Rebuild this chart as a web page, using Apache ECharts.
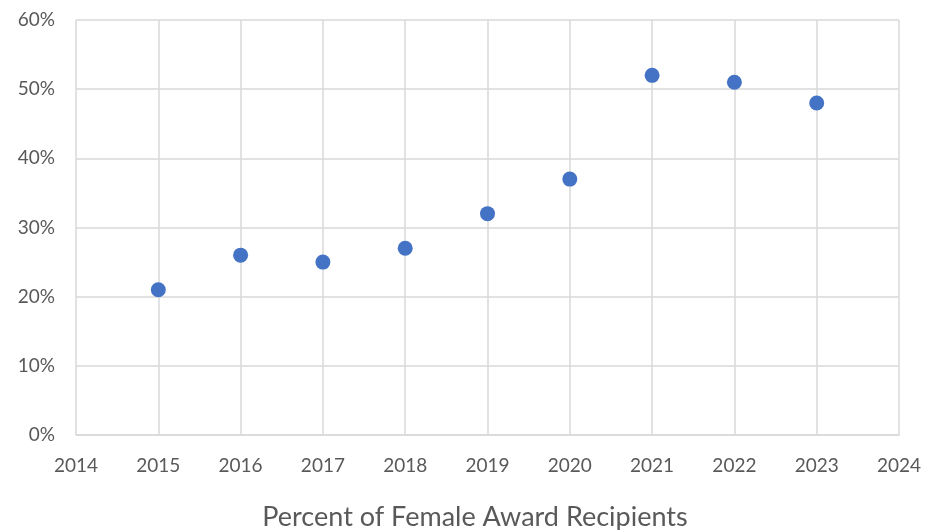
<!DOCTYPE html>
<html><head><meta charset="utf-8">
<script src="https://cdn.jsdelivr.net/npm/echarts@6/dist/echarts.min.js"></script>
<style>html,body{margin:0;padding:0;background:#fff}#c{width:928px;height:530px}</style>
</head><body><div id="c"></div>
<script>
const years = [2015, 2016, 2017, 2018, 2019, 2020, 2021, 2022, 2023];
const femalePct = [21, 26, 25, 27, 32, 37, 52, 51, 48];
const chartTitle = 'Percent of Female Award Recipients';

const chart = echarts.init(document.getElementById('c'));
const txt = '#595959', grid = '#d9d9d9', ff = 'Lato, "Open Sans", sans-serif';
chart.setOption({
  animation: false,
  title: { text: chartTitle, left: 470, textAlign: 'center', top: 499,
    textStyle: { color: txt, fontSize: 27, fontWeight: 'normal', fontFamily: ff } },
  grid: { left: 76, right: 29, top: 20, bottom: 95 },
  xAxis: { type: 'value', min: 2014, max: 2024, interval: 1,
    axisLine: { show: true, lineStyle: { color: grid, width: 1.5 } },
    axisTick: { show: false },
    splitLine: { show: true, lineStyle: { color: grid, width: 1.5 } },
    axisLabel: { color: txt, fontSize: 19, fontFamily: ff, margin: 21, formatter: v => String(v) } },
  yAxis: { type: 'value', min: 0, max: 60, interval: 10,
    axisLine: { show: false }, axisTick: { show: false },
    splitLine: { show: true, lineStyle: { color: grid, width: 1.5 } },
    axisLabel: { color: txt, fontSize: 19, fontFamily: ff, margin: 21, formatter: v => v + '%' } },
  series: [{ type: 'scatter', symbolSize: 15,
    itemStyle: { color: '#4472C4', opacity: 1 },
    data: years.map((y, i) => [y, femalePct[i]]) }]
});
</script></body></html>
